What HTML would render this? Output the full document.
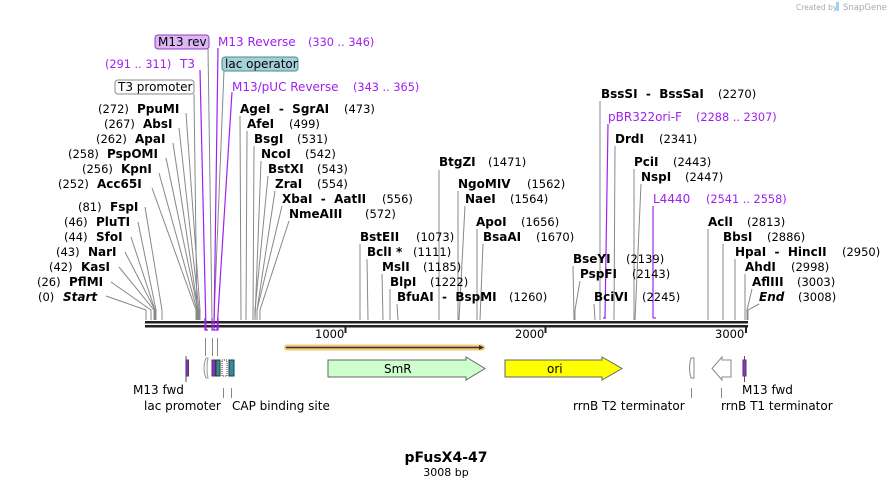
<!DOCTYPE html>
<html><head><meta charset="utf-8"><style>
html,body{margin:0;padding:0;background:#fff;}
svg{display:block;font-family:"DejaVu Sans","Liberation Sans",sans-serif;}
text{white-space:pre;}
.n{font-size:12px;font-weight:bold;fill:#000;}
.c{font-size:11.5px;fill:#000;}
.p{font-size:12px;fill:#a020f0;}
.pc{font-size:11.3px;fill:#a020f0;}
.f{font-size:12px;fill:#000;}
.g{stroke:#888;stroke-width:1;fill:none;}
.pl{stroke:#a020f0;stroke-width:1.2;fill:none;}
</style></head><body>
<svg width="894" height="487" viewBox="0 0 894 487">
<text x="796" y="10" font-size="7.5" fill="#aaa">Created by</text>
<rect x="836" y="2" width="3" height="9" fill="#9cd3ee"/>
<text x="843" y="10" font-size="8.5" fill="#aaa">SnapGene</text>

<rect x="145" y="321" width="603" height="2.5" fill="#222"/>
<rect x="145" y="325" width="603" height="2.5" fill="#222"/>
<g stroke="#222" stroke-width="2">
<line x1="345.5" y1="327" x2="345.5" y2="333"/><line x1="545.5" y1="327" x2="545.5" y2="333"/><line x1="746" y1="327" x2="746" y2="333"/>
</g>
<text class="c" x="315" y="338">1000</text><text class="c" x="515" y="338">2000</text><text class="c" x="715" y="338">3000</text>

<g class="g">
<polyline points="106,296 146,310 146,320"/>
<polyline points="111,282 151,310 151,320"/>
<polyline points="119,267 154,310 154,320"/>
<polyline points="125,252 155,310 155,320"/>
<polyline points="131,237 155,310 155,320"/>
<polyline points="138,222 156,310 156,320"/>
<polyline points="145,207 162,310 162,320"/>
<polyline points="152,188 196,310 196,320"/>
<polyline points="159,173 197,310 197,320"/>
<polyline points="166,158 198,310 198,320"/>
<polyline points="173,143 198,310 198,320"/>
<polyline points="179,128 199,310 199,320"/>
<polyline points="186,113 200,310 200,320"/>
<polyline points="194,94 197,320"/>
<polyline points="208,48 212,320"/>
<polyline points="224,70 214,320"/>
<polyline points="240,116 241,320"/>
<polyline points="247,131 246,320"/>
<polyline points="254,146 253,320"/>
<polyline points="261,161 255,320"/>
<polyline points="268,176 255,310 255,320"/>
<polyline points="275,191 257,310 257,320"/>
<polyline points="282,206 257,310 257,320"/>
<polyline points="289,221 260,310 260,320"/>
<polyline points="360,244 360,320"/>
<polyline points="367,259 368,320"/>
<polyline points="382,274 383,320"/>
<polyline points="390,289 390,320"/>
<polyline points="397,304 398,320"/>
<polyline points="439,170 439,320"/>
<polyline points="458,191 458,320"/>
<polyline points="465,206 459,320"/>
<polyline points="477,229 477,320"/>
<polyline points="483,244 480,320"/>
<polyline points="573,266 574,320"/>
<polyline points="580,281 575,310 575,320"/>
<polyline points="594,304 595,320"/>
<polyline points="600,101 600,320"/>
<polyline points="615,146 614,320"/>
<polyline points="634,169 634,320"/>
<polyline points="641,184 635,320"/>
<polyline points="708,229 708,320"/>
<polyline points="723,244 723,320"/>
<polyline points="735,259 735,320"/>
<polyline points="745,274 745,320"/>
<polyline points="752,289 747,310 747,320"/>
<polyline points="759,304 748,310 748,320"/>
</g>
<rect x="196" y="310" width="4" height="10" fill="#888"/>
<g class="pl">
<polyline points="200,70 206,330"/>
<polyline points="218,48 214,330"/>
<polyline points="232,92 217,330"/>
<polyline points="608,124 605,318"/>
<polyline points="653,206 653,318"/>
<polyline points="205,318 205,330 208,330"/><polyline points="212,318 212,330 218,330 218,318"/>
<polyline points="603,318 606,318"/><polyline points="653,318 656,318"/>
</g>

<rect x="155" y="35" width="54" height="14" rx="3" fill="#dcb6f5" stroke="#8b3fbf"/>
<text class="f" x="158" y="46">M13 rev</text>
<text class="p" x="218" y="46">M13 Reverse</text><text class="pc" x="308" y="46">(330 .. 346)</text>
<text class="pc" x="105" y="68">(291 .. 311)</text><text class="p" x="180" y="68">T3</text>
<rect x="222" y="57" width="76" height="14" rx="3" fill="#a6d0d8" stroke="#4a8a99"/>
<text class="f" x="225" y="68">lac operator</text>
<rect x="115" y="80" width="79" height="14" rx="3" fill="#fff" stroke="#888"/>
<text class="f" x="118" y="91">T3 promoter</text>
<text class="p" x="232" y="91">M13/pUC Reverse</text><text class="pc" x="353" y="91">(343 .. 365)</text>

<text class="c" x="98" y="113">(272)</text><text class="n" x="137" y="113">PpuMI</text>
<text class="c" x="104" y="128">(267)</text><text class="n" x="143" y="128">AbsI</text>
<text class="c" x="96" y="143">(262)</text><text class="n" x="135" y="143">ApaI</text>
<text class="c" x="68" y="158">(258)</text><text class="n" x="107" y="158">PspOMI</text>
<text class="c" x="82" y="173">(256)</text><text class="n" x="121" y="173">KpnI</text>
<text class="c" x="58" y="188">(252)</text><text class="n" x="97" y="188">Acc65I</text>
<text class="c" x="78" y="211">(81)</text><text class="n" x="110" y="211">FspI</text>
<text class="c" x="64" y="226">(46)</text><text class="n" x="96" y="226">PluTI</text>
<text class="c" x="64" y="241">(44)</text><text class="n" x="96" y="241">SfoI</text>
<text class="c" x="56" y="256">(43)</text><text class="n" x="88" y="256">NarI</text>
<text class="c" x="49" y="271">(42)</text><text class="n" x="81" y="271">KasI</text>
<text class="c" x="37" y="286">(26)</text><text class="n" x="69" y="286">PflMI</text>
<text class="c" x="38" y="301">(0)</text><text class="n" x="63" y="301" font-style="italic">Start</text>

<text class="n" x="240" y="113">AgeI  -  SgrAI</text><text class="c" x="344" y="113">(473)</text>
<text class="n" x="247" y="128">AfeI</text><text class="c" x="289" y="128">(499)</text>
<text class="n" x="254" y="143">BsgI</text><text class="c" x="297" y="143">(531)</text>
<text class="n" x="261" y="158">NcoI</text><text class="c" x="305" y="158">(542)</text>
<text class="n" x="268" y="173">BstXI</text><text class="c" x="317" y="173">(543)</text>
<text class="n" x="275" y="188">ZraI</text><text class="c" x="317" y="188">(554)</text>
<text class="n" x="282" y="203">XbaI  -  AatII</text><text class="c" x="382" y="203">(556)</text>
<text class="n" x="289" y="218">NmeAIII</text><text class="c" x="365" y="218">(572)</text>

<text class="n" x="360" y="241">BstEII</text><text class="c" x="416" y="241">(1073)</text>
<text class="n" x="367" y="256">BclI *</text><text class="c" x="413" y="256">(1111)</text>
<text class="n" x="382" y="271">MslI</text><text class="c" x="423" y="271">(1185)</text>
<text class="n" x="390" y="286">BlpI</text><text class="c" x="430" y="286">(1222)</text>
<text class="n" x="397" y="301">BfuAI  -  BspMI</text><text class="c" x="509" y="301">(1260)</text>
<text class="n" x="439" y="166">BtgZI</text><text class="c" x="488" y="166">(1471)</text>
<text class="n" x="458" y="188">NgoMIV</text><text class="c" x="527" y="188">(1562)</text>
<text class="n" x="465" y="203">NaeI</text><text class="c" x="510" y="203">(1564)</text>
<text class="n" x="476" y="226">ApoI</text><text class="c" x="521" y="226">(1656)</text>
<text class="n" x="483" y="241">BsaAI</text><text class="c" x="536" y="241">(1670)</text>

<text class="n" x="573" y="263">BseYI</text><text class="c" x="626" y="263">(2139)</text>
<text class="n" x="580" y="278">PspFI</text><text class="c" x="632" y="278">(2143)</text>
<text class="n" x="594" y="301">BciVI</text><text class="c" x="642" y="301">(2245)</text>
<text class="n" x="601" y="98">BssSI  -  BssSaI</text><text class="c" x="718" y="98">(2270)</text>
<text class="p" x="608" y="121">pBR322ori-F</text><text class="pc" x="696" y="121">(2288 .. 2307)</text>
<text class="n" x="615" y="143">DrdI</text><text class="c" x="659" y="143">(2341)</text>
<text class="n" x="634" y="166">PciI</text><text class="c" x="673" y="166">(2443)</text>
<text class="n" x="641" y="181">NspI</text><text class="c" x="685" y="181">(2447)</text>
<text class="p" x="653" y="203">L4440</text><text class="pc" x="706" y="203">(2541 .. 2558)</text>
<text class="n" x="708" y="226">AclI</text><text class="c" x="747" y="226">(2813)</text>
<text class="n" x="723" y="241">BbsI</text><text class="c" x="767" y="241">(2886)</text>
<text class="n" x="735" y="256">HpaI  -  HincII</text><text class="c" x="842" y="256">(2950)</text>
<text class="n" x="745" y="271">AhdI</text><text class="c" x="791" y="271">(2998)</text>
<text class="n" x="752" y="286">AflIII</text><text class="c" x="797" y="286">(3003)</text>
<text class="n" x="759" y="301" font-style="italic">End</text><text class="c" x="798" y="301">(3008)</text>

<rect x="284" y="344.5" width="201" height="6" rx="3" fill="#f8c877"/>
<line x1="286" y1="347.5" x2="481" y2="347.5" stroke="#333" stroke-width="1.5"/>
<polygon points="479,345 484,347.5 479,350" fill="#333"/>
<polygon points="328,360 466,360 466,357 485,368.5 466,380 466,377 328,377" fill="#ccffcc" stroke="#666"/>
<text class="f" x="384" y="373">SmR</text>
<polygon points="505,360 602,360 602,357 622,368.5 602,380 602,377 505,377" fill="#ffff00" stroke="#666"/>
<text class="f" x="547" y="373">ori</text>

<g stroke="#555" fill="none">
<line x1="186" y1="356" x2="186" y2="382"/>
<rect x="186" y="360" width="2.5" height="16" fill="#a020f0" stroke="#444"/>
<path d="M206,358 Q202,368 206,378 L208,378 Q206,368 208,358 Z" stroke="#999"/>
<line x1="205.5" y1="338" x2="205.5" y2="356" stroke="#888"/>
<line x1="212.5" y1="338" x2="212.5" y2="356" stroke="#888"/>
<line x1="217.5" y1="338" x2="217.5" y2="356" stroke="#888"/>
<rect x="212" y="360" width="3" height="16" fill="#a020f0" stroke="#444"/>
<rect x="216" y="360" width="4" height="16" fill="#2e8da0" stroke="#333"/>
<rect x="222" y="360" width="5" height="16" fill="#fff" stroke="#333" stroke-dasharray="1,1"/>
<rect x="229" y="360" width="5" height="16" fill="#2e8da0" stroke="#333"/>
<line x1="223.5" y1="388" x2="223.5" y2="398" stroke="#888"/>
<line x1="231.5" y1="388" x2="231.5" y2="398" stroke="#888"/>
<path d="M691,358 Q688,368 691,378 L694,378 L694,358 Z" stroke="#888"/>
<line x1="691.5" y1="388" x2="691.5" y2="398" stroke="#888"/>
<polygon points="731,360 731,377 722,377 722,380 712,368.5 722,357 722,360" stroke="#888"/>
<line x1="721.5" y1="388" x2="721.5" y2="398" stroke="#888"/>
<line x1="744.5" y1="356" x2="744.5" y2="382"/>
<rect x="743" y="360" width="3" height="16" fill="#a020f0" stroke="#444"/>
</g>
<text class="f" x="133" y="394">M13 fwd</text>
<text class="f" x="144" y="410">lac promoter</text>
<text class="f" x="232" y="410">CAP binding site</text>
<text class="f" x="573" y="410">rrnB T2 terminator</text>
<text class="f" x="742" y="394">M13 fwd</text>
<text class="f" x="721" y="410">rrnB T1 terminator</text>

<text x="446" y="462" text-anchor="middle" font-size="14" font-weight="bold">pFusX4-47</text>
<text x="446" y="476" text-anchor="middle" font-size="11">3008 bp</text>
</svg>
</body></html>
